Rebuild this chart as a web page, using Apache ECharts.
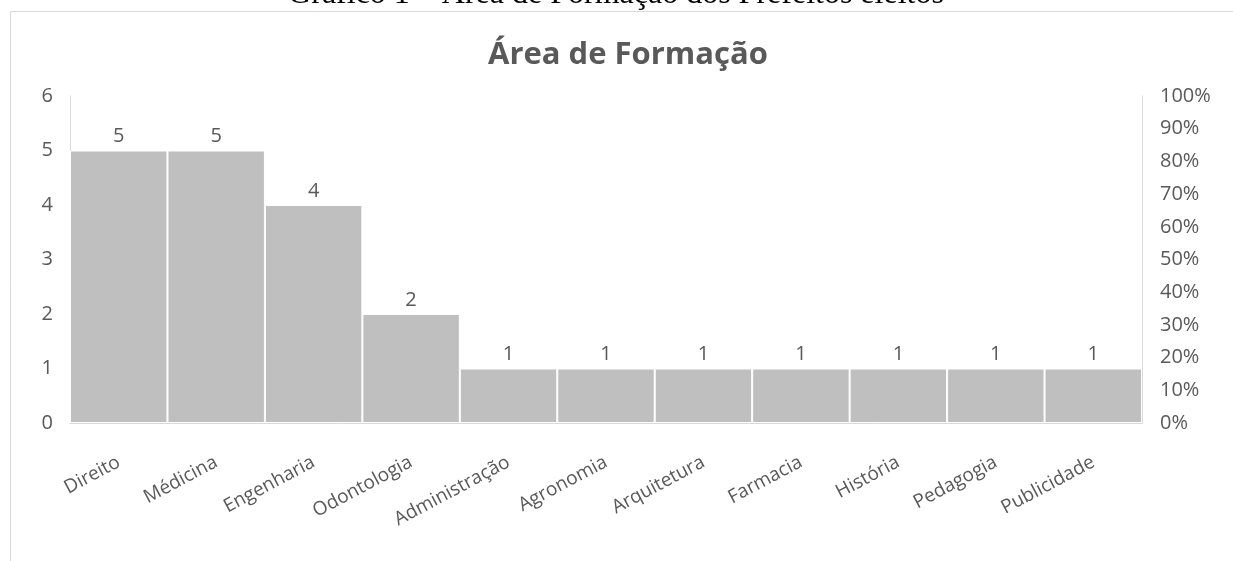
<!DOCTYPE html>
<html>
<head>
<meta charset="utf-8">
<script src="https://cdn.jsdelivr.net/npm/echarts@6/dist/echarts.min.js"></script>
<style>
  html, body { margin: 0; padding: 0; background: #fff; }
  #chart { width: 1233px; height: 561px; }
</style>
</head>
<body>
<div id="chart"></div>
<script>
var cursos = ['Direito', 'Médicina', 'Engenharia', 'Odontologia', 'Administração', 'Agronomia',
  'Arquitetura', 'Farmacia', 'História', 'Pedagogia', 'Publicidade'];
var prefeitos = [5, 5, 4, 2, 1, 1, 1, 1, 1, 1, 1];

var myChart = echarts.init(document.getElementById('chart'));
var cinza = '#595959';
var fonte = '"Open Sans", "Noto Sans", sans-serif';

var option = {
  backgroundColor: '#fff',
  animation: false,
  textStyle: { fontFamily: fonte },
  title: {
    text: 'Área de Formação',
    left: 483,
    top: 35,
    textStyle: { fontSize: 31, fontWeight: 'bold', color: cinza, fontFamily: fonte }
  },
  graphic: [
    {
      type: 'text',
      x: 616,
      y: 11,
      style: {
        text: 'Gráfico 1 – Área de Formação dos Prefeitos eleitos',
        font: '32px "Liberation Serif", "Times New Roman", serif',
        fill: '#000',
        align: 'center',
        verticalAlign: 'bottom'
      }
    },
    {
      type: 'rect',
      shape: { x: 10.5, y: 11.5, width: 1240, height: 560 },
      style: { fill: 'none', stroke: '#d9d9d9', lineWidth: 1 }
    }
  ],
  grid: { left: 70, right: 91, top: 96, bottom: 138 },
  xAxis: {
    type: 'category',
    data: cursos,
    axisLine: { lineStyle: { color: '#d9d9d9' } },
    axisTick: { show: false },
    axisLabel: { interval: 0, rotate: 28, color: cinza, fontSize: 19, margin: 38 }
  },
  yAxis: [
    {
      type: 'value',
      min: 0, max: 6, interval: 1,
      axisLine: { show: true, lineStyle: { color: '#d9d9d9' } },
      axisTick: { show: false },
      splitLine: { show: false },
      axisLabel: { color: cinza, fontSize: 20, margin: 17 }
    },
    {
      type: 'value',
      position: 'right',
      min: 0, max: 100, interval: 10,
      axisLine: { show: true, lineStyle: { color: '#d9d9d9' } },
      axisTick: { show: false },
      splitLine: { show: false },
      axisLabel: { color: cinza, fontSize: 20, margin: 18, formatter: '{value}%' }
    }
  ],
  series: [
    {
      name: 'Área de Formação',
      type: 'bar',
      data: prefeitos,
      barCategoryGap: 0,
      itemStyle: { color: '#bfbfbf', borderColor: '#fff', borderWidth: 1 },
      label: { show: true, position: 'top', color: cinza, fontSize: 20, distance: 4 }
    }
  ]
};
myChart.setOption(option);
</script>
</body>
</html>
